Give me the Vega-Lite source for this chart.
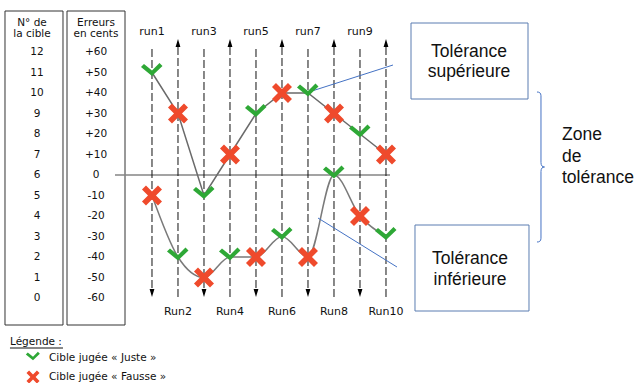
{
  "$schema": "https://vega.github.io/schema/vega-lite/v6.json",
  "width": 637,
  "height": 383,
  "padding": 0,
  "autosize": {"type": "none"},
  "background": "white",
  "config": {"view": {"stroke": null}, "axis": {"disable": true}, "font": "DejaVu Sans"},
  "datasets": {
    "cibles": [
      {"cible": 12, "erreur": "+60"}, {"cible": 11, "erreur": "+50"}, {"cible": 10, "erreur": "+40"},
      {"cible": 9, "erreur": "+30"}, {"cible": 8, "erreur": "+20"}, {"cible": 7, "erreur": "+10"},
      {"cible": 6, "erreur": "0"}, {"cible": 5, "erreur": "-10"}, {"cible": 4, "erreur": "-20"},
      {"cible": 3, "erreur": "-30"}, {"cible": 2, "erreur": "-40"}, {"cible": 1, "erreur": "-50"},
      {"cible": 0, "erreur": "-60"}
    ],
    "runs": [
      {"run": 1, "label": "run1", "sens": "bas"}, {"run": 2, "label": "Run2", "sens": "haut"},
      {"run": 3, "label": "run3", "sens": "bas"}, {"run": 4, "label": "Run4", "sens": "haut"},
      {"run": 5, "label": "run5", "sens": "bas"}, {"run": 6, "label": "Run6", "sens": "haut"},
      {"run": 7, "label": "run7", "sens": "bas"}, {"run": 8, "label": "Run8", "sens": "haut"},
      {"run": 9, "label": "run9", "sens": "bas"}, {"run": 10, "label": "Run10", "sens": "haut"}
    ],
    "marques": [
      {"run": 1, "cible": 11, "courbe": "sup", "jugement": "Juste"},
      {"run": 2, "cible": 9, "courbe": "sup", "jugement": "Fausse"},
      {"run": 3, "cible": 5, "courbe": "sup", "jugement": "Juste"},
      {"run": 4, "cible": 7, "courbe": "sup", "jugement": "Fausse"},
      {"run": 5, "cible": 9, "courbe": "sup", "jugement": "Juste"},
      {"run": 6, "cible": 10, "courbe": "sup", "jugement": "Fausse"},
      {"run": 7, "cible": 10, "courbe": "sup", "jugement": "Juste"},
      {"run": 8, "cible": 9, "courbe": "sup", "jugement": "Fausse"},
      {"run": 9, "cible": 8, "courbe": "sup", "jugement": "Juste"},
      {"run": 10, "cible": 7, "courbe": "sup", "jugement": "Fausse"},
      {"run": 1, "cible": 5, "courbe": "inf", "jugement": "Fausse"},
      {"run": 2, "cible": 2, "courbe": "inf", "jugement": "Juste"},
      {"run": 3, "cible": 1, "courbe": "inf", "jugement": "Fausse"},
      {"run": 4, "cible": 2, "courbe": "inf", "jugement": "Juste"},
      {"run": 5, "cible": 2, "courbe": "inf", "jugement": "Fausse"},
      {"run": 6, "cible": 3, "courbe": "inf", "jugement": "Juste"},
      {"run": 7, "cible": 2, "courbe": "inf", "jugement": "Fausse"},
      {"run": 8, "cible": 6, "courbe": "inf", "jugement": "Juste"},
      {"run": 9, "cible": 4, "courbe": "inf", "jugement": "Fausse"},
      {"run": 10, "cible": 3, "courbe": "inf", "jugement": "Juste"}
    ]
  },
  "data": {"values": [{}]},
  "layer": [
    {
      "mark": {"type": "rect", "fill": "transparent", "stroke": "#333333", "strokeWidth": 1},
      "encoding": {
        "x": {"datum": -4.654, "type": "quantitative", "scale": {"domain": [-4.846, 19.654], "nice": false, "zero": false}},
        "x2": {"datum": -2.423},
        "y": {"datum": 14.0, "type": "quantitative", "scale": {"domain": [-4.146, 14.537], "nice": false, "zero": false}},
        "y2": {"datum": -1.317}
      }
    },
    {
      "mark": {"type": "rect", "fill": "transparent", "stroke": "#333333", "strokeWidth": 1},
      "encoding": {
        "x": {"datum": -2.269, "type": "quantitative"},
        "x2": {"datum": -0.038},
        "y": {"datum": 14.0, "type": "quantitative"},
        "y2": {"datum": -1.317}
      }
    },
    {
      "mark": {"type": "text", "text": ["N° de", "la cible"], "font": "DejaVu Sans", "fontSize": 10.5, "lineHeight": 11, "baseline": "middle", "align": "center", "color": "#111111"},
      "encoding": {"x": {"datum": -3.615, "type": "quantitative"}, "y": {"datum": 13.42, "type": "quantitative"}}
    },
    {
      "mark": {"type": "text", "text": ["Erreurs", "en cents"], "font": "DejaVu Sans", "fontSize": 10.5, "lineHeight": 11, "baseline": "middle", "align": "center", "color": "#111111"},
      "encoding": {"x": {"datum": -1.154, "type": "quantitative"}, "y": {"datum": 13.42, "type": "quantitative"}}
    },
    {
      "data": {"name": "cibles"},
      "mark": {"type": "text", "font": "DejaVu Sans", "fontSize": 10.5, "baseline": "middle", "align": "center", "color": "#111111"},
      "encoding": {
        "x": {"datum": -3.423, "type": "quantitative"},
        "y": {"field": "cible", "type": "quantitative"},
        "text": {"field": "cible", "type": "quantitative"}
      }
    },
    {
      "data": {"name": "cibles"},
      "mark": {"type": "text", "font": "DejaVu Sans", "fontSize": 10.5, "baseline": "middle", "align": "center", "color": "#111111"},
      "encoding": {
        "x": {"datum": -1.154, "type": "quantitative"},
        "y": {"field": "cible", "type": "quantitative"},
        "text": {"field": "erreur", "type": "nominal"}
      }
    },
    {
      "mark": {"type": "rule", "color": "#858585", "strokeWidth": 1.5},
      "encoding": {
        "x": {"datum": -0.423, "type": "quantitative"},
        "x2": {"datum": 10.154},
        "y": {"datum": 6, "type": "quantitative"}
      }
    },
    {
      "data": {"name": "runs"},
      "transform": [{"filter": "datum.sens == 'bas'"}],
      "mark": {"type": "rule", "color": "#111111", "strokeWidth": 1, "strokeDash": [8, 3]},
      "encoding": {
        "x": {"field": "run", "type": "quantitative"},
        "y": {"datum": 12.146, "type": "quantitative"},
        "y2": {"datum": 0.293}
      }
    },
    {
      "data": {"name": "runs"},
      "transform": [{"filter": "datum.sens == 'haut'"}],
      "mark": {"type": "rule", "color": "#111111", "strokeWidth": 1, "strokeDash": [8, 3]},
      "encoding": {
        "x": {"field": "run", "type": "quantitative"},
        "y": {"datum": 0.049, "type": "quantitative"},
        "y2": {"datum": 12.39}
      }
    },
    {
      "data": {"name": "runs"},
      "transform": [{"filter": "datum.sens == 'bas'"}],
      "mark": {"type": "point", "shape": "M -0.6 -1 L 0.6 -1 L 0 1 Z", "filled": true, "color": "#000000", "size": 64, "opacity": 1},
      "encoding": {
        "x": {"field": "run", "type": "quantitative"},
        "y": {"datum": 0.244, "type": "quantitative"}
      }
    },
    {
      "data": {"name": "runs"},
      "transform": [{"filter": "datum.sens == 'haut'"}],
      "mark": {"type": "point", "shape": "M -0.6 1 L 0.6 1 L 0 -1 Z", "filled": true, "color": "#000000", "size": 64, "opacity": 1},
      "encoding": {
        "x": {"field": "run", "type": "quantitative"},
        "y": {"datum": 12.439, "type": "quantitative"}
      }
    },
    {
      "data": {"name": "runs"},
      "transform": [{"filter": "datum.sens == 'bas'"}],
      "mark": {"type": "text", "font": "DejaVu Sans", "fontSize": 11, "baseline": "middle", "align": "center", "color": "#111111"},
      "encoding": {
        "x": {"field": "run", "type": "quantitative"},
        "y": {"datum": 13.0, "type": "quantitative"},
        "text": {"field": "label", "type": "nominal"}
      }
    },
    {
      "data": {"name": "runs"},
      "transform": [{"filter": "datum.sens == 'haut'"}],
      "mark": {"type": "text", "font": "DejaVu Sans", "fontSize": 11, "baseline": "middle", "align": "center", "color": "#111111"},
      "encoding": {
        "x": {"field": "run", "type": "quantitative"},
        "y": {"datum": -0.68, "type": "quantitative"},
        "text": {"field": "label", "type": "nominal"}
      }
    },
    {
      "data": {"name": "marques"},
      "transform": [{"filter": "datum.courbe == 'sup'"}],
      "mark": {"type": "line", "interpolate": "linear", "color": "#6a6a6a", "strokeWidth": 1.5},
      "encoding": {
        "x": {"field": "run", "type": "quantitative"},
        "y": {"field": "cible", "type": "quantitative"}
      }
    },
    {
      "data": {"name": "marques"},
      "transform": [{"filter": "datum.courbe == 'inf'"}],
      "mark": {"type": "line", "interpolate": "monotone", "color": "#7a7a7a", "strokeWidth": 1.5},
      "encoding": {
        "x": {"field": "run", "type": "quantitative"},
        "y": {"field": "cible", "type": "quantitative"}
      }
    },
    {
      "mark": {"type": "rule", "color": "#4472c4", "strokeWidth": 1},
      "encoding": {
        "x": {"datum": 7.154, "type": "quantitative"},
        "x2": {"datum": 10.269},
        "y": {"datum": 10.098, "type": "quantitative"},
        "y2": {"datum": 11.366}
      }
    },
    {
      "mark": {"type": "rule", "color": "#4472c4", "strokeWidth": 1},
      "encoding": {
        "x": {"datum": 7.385, "type": "quantitative"},
        "x2": {"datum": 10.423},
        "y": {"datum": 3.902, "type": "quantitative"},
        "y2": {"datum": 1.512}
      }
    },
    {
      "data": {"name": "marques"},
      "mark": {"type": "point", "filled": true, "opacity": 1, "size": 400, "strokeWidth": 0},
      "encoding": {
        "x": {"field": "run", "type": "quantitative"},
        "y": {"field": "cible", "type": "quantitative"},
        "color": {
          "field": "jugement", "type": "nominal",
          "scale": {"domain": ["Juste", "Fausse"], "range": ["#2ea836", "#ef4a2c"]},
          "legend": {"orient": "none", "legendX": 26, "legendY": 351, "title": null, "padding": 0, "symbolSize": 170, "labelFont": "DejaVu Sans", "labelFontSize": 10.5, "labelColor": "#111111", "labelOffset": 9, "rowPadding": 6, "symbolStrokeWidth": 0,
            "labelExpr": "datum.label == 'Juste' ? 'Cible jugée « Juste »' : 'Cible  jugée « Fausse »'"}
        },
        "shape": {
          "field": "jugement", "type": "nominal",
          "scale": {"domain": ["Juste", "Fausse"], "range": ["M -1.1 -0.55 L -0.8 -0.85 L 0 -0.2 L 0.75 -0.95 L 1.05 -0.65 L 0 0.35 Z", "M -1 -0.6 L -0.6 -1 L 0 -0.4 L 0.6 -1 L 1 -0.6 L 0.4 0 L 1 0.6 L 0.6 1 L 0 0.4 L -0.6 1 L -1 0.6 L -0.4 0 Z"]},
          "legend": {"orient": "none", "legendX": 26, "legendY": 351, "title": null, "padding": 0, "symbolSize": 170, "labelFont": "DejaVu Sans", "labelFontSize": 10.5, "labelColor": "#111111", "labelOffset": 9, "rowPadding": 6, "symbolStrokeWidth": 0,
            "labelExpr": "datum.label == 'Juste' ? 'Cible jugée « Juste »' : 'Cible  jugée « Fausse »'"}
        }
      }
    },
    {
      "mark": {"type": "rect", "fill": "transparent", "stroke": "#5b7db1", "strokeWidth": 1},
      "encoding": {
        "x": {"datum": 10.962, "type": "quantitative"},
        "x2": {"datum": 15.462},
        "y": {"datum": 13.415, "type": "quantitative"},
        "y2": {"datum": 9.707}
      }
    },
    {
      "mark": {"type": "rect", "fill": "transparent", "stroke": "#5b7db1", "strokeWidth": 1},
      "encoding": {
        "x": {"datum": 11.115, "type": "quantitative"},
        "x2": {"datum": 15.5},
        "y": {"datum": 3.561, "type": "quantitative"},
        "y2": {"datum": -0.634}
      }
    },
    {
      "mark": {"type": "text", "text": ["Tolérance", "supérieure"], "font": "Liberation Sans", "fontSize": 17.5, "lineHeight": 20, "baseline": "middle", "align": "center", "color": "#111111"},
      "encoding": {"x": {"datum": 13.192, "type": "quantitative"}, "y": {"datum": 12.0, "type": "quantitative"}}
    },
    {
      "mark": {"type": "text", "text": ["Tolérance", "inférieure"], "font": "Liberation Sans", "fontSize": 17.5, "lineHeight": 21, "baseline": "middle", "align": "center", "color": "#111111"},
      "encoding": {"x": {"datum": 13.231, "type": "quantitative"}, "y": {"datum": 1.902, "type": "quantitative"}}
    },
    {
      "mark": {"type": "text", "text": ["Zone", "de", "tolérance"], "font": "Liberation Sans", "fontSize": 17.5, "lineHeight": 21.5, "baseline": "middle", "align": "left", "color": "#111111"},
      "encoding": {"x": {"datum": 16.769, "type": "quantitative"}, "y": {"datum": 7.951, "type": "quantitative"}}
    },
    {
      "mark": {"type": "point", "shape": "M -0.04 -1 C -0.01 -1 0.013 -0.99 0.013 -0.95 L 0.013 -0.06 C 0.013 -0.02 0.03 0 0.06 0 C 0.03 0 0.013 0.02 0.013 0.06 L 0.013 0.95 C 0.013 0.99 -0.01 1 -0.04 1", "filled": false, "stroke": "#4472c4", "strokeWidth": 1, "size": 22500, "opacity": 1},
      "encoding": {"x": {"datum": 15.923, "type": "quantitative"}, "y": {"datum": 6.39, "type": "quantitative"}}
    },
    {
      "mark": {"type": "text", "text": "Légende :", "font": "DejaVu Sans", "fontSize": 10.5, "baseline": "middle", "align": "left", "color": "#111111"},
      "encoding": {"x": {"datum": -4.462, "type": "quantitative"}, "y": {"datum": -2.146, "type": "quantitative"}}
    },
    {
      "mark": {"type": "rule", "color": "#111111", "strokeWidth": 1},
      "encoding": {
        "x": {"datum": -4.462, "type": "quantitative"},
        "x2": {"datum": -2.423},
        "y": {"datum": -2.439, "type": "quantitative"}
      }
    }
  ]
}
